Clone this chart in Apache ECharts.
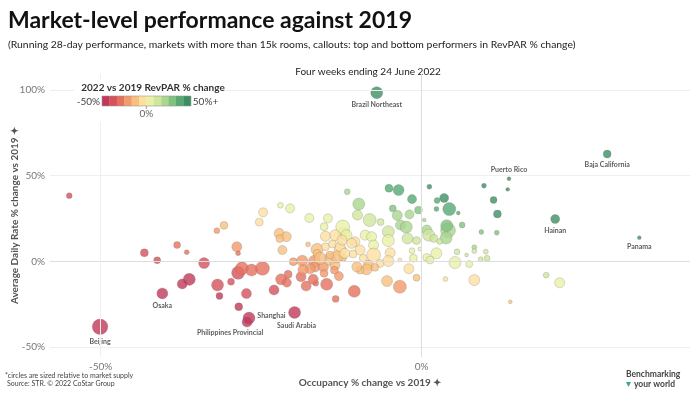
<!DOCTYPE html>
<html>
<head>
<meta charset="utf-8">
<script src="https://cdn.jsdelivr.net/npm/echarts@6/dist/echarts.min.js"></script>
<style>html,body{margin:0;padding:0;background:#fff}#c{width:700px;height:394px}</style>
</head>
<body>
<div id="c"></div>
<script>
// ---- Data (percent changes vs 2019) ----
const occ = [-54.9,-30.8,-31.9,-38.1,-36.6,-43.2,-41.2,-33.9,-36.2,-37.3,-31.8,-31.5,-29.7,-28.6,-28.5,-28.8,-28.6,
 -22.0,-24.7,-25.3,-22.2,-21.1,-22.1,-21.7,-17.7,-28.0,-26.5,-24.8,-27.3,-23.0,-21.9,-20.8,-21.0,-18.8,-18.0,-16.5,-14.8,-16.9,-13.4,-10.5,
 -20.0,-18.6,-16.7,-16.6,-15.3,-14.3,-13.5,-12.3,-12.9,-16.3,-15.0,-13.9,-12.7,-17.5,-14.6,-12.1,-11.6,-9.8,-10.0,-5.1,-3.6,1.2,9.7,-1.5,3.5,2.4,4.3,2.3,5.7,
 -4.5,-3.8,-1.9,-0.5,-8.1,-6.4,-12.3,-3.3,-2.4,-5.2,-5.2,-2.2,-0.8,0.8,1.1,4.1,3.9,3.8,1.9,2.8,0.4,6.3,9.3,11.7,11.2,11.8,13.4,
 -8.8,-7.8,-7.5,-10.4,-11.7,-13.5,-12.7,-9.6,-7.5,-10.7,-13.2,-9.1,-4.9,-1.5,-0.3,0.8,2.3,1.3,5.5,5.2,-3.4,-1.3,-5.2,-6.5,-8.3,-7.3,-2.0,-0.8,3.7,8.2,
 -3.4,-5.4,-8.6,-9.6,-15.2,-13.6,8.2,8.2,10.0,9.2,10.2,7.0,7.4,19.4,21.5,13.8,-15.0,-12.0,-12.4,-10.9,-10.1,-15.2,-20.5,-14.3,-16.3,-15.8,-17.4,-18.5];
const adr = [38.3,21.0,17.9,9.5,5.3,5.0,0.6,-1.0,-10.5,-13.2,-13.8,-20.2,-11.9,-6.7,-26.5,8.5,4.7,
 32.7,28.6,22.9,16.3,14.4,13.3,6.6,9.9,-4.1,-5.1,-4.1,-18.8,-16.7,-10.5,-7.5,-12.4,-9.0,-14.4,-12.8,-13.4,-10.5,-21.9,-17.5,
 -0.2,0.4,0.0,-3.2,-3.2,1.2,-2.2,2.3,-8.6,7.0,8.5,10.1,6.6,25.3,25.1,16.3,40.6,33.4,27.0,42.6,41.6,43.5,44.1,36.3,37.0,35.5,30.5,30.5,28.2,
 30.9,26.8,27.4,29.9,24.1,22.9,20.0,21.2,20.0,17.3,12.1,13.4,12.1,18.3,15.3,18.1,20.8,13.6,13.4,11.6,24.1,21.2,17.1,16.7,35.8,27.6,42.0,
 15.3,14.4,9.5,11.4,15.3,15.3,8.5,6.6,3.7,4.3,2.7,1.8,5.0,6.2,7.2,2.3,4.7,0.8,5.6,-0.7,0.8,1.8,0.2,-1.2,-2.2,-3.5,-4.3,-9.6,-10.3,-10.9,
 -14.8,-11.5,-4.7,-5.1,-7.0,-5.1,8.2,6.0,5.6,1.2,1.8,3.7,-1.6,-8.0,-12.5,-23.6,14.6,4.7,12.4,10.5,-3.2,20.2,30.9,3.7,4.7,1.8,-4.3,-4.9];
const supply = [7,13,7,10,5,13,10,25,30,21,30,10,10,35,13,21,5,
 7,17,13,21,21,13,17,5,35,30,40,21,21,25,13,17,21,21,7,30,21,10,30,
 13,25,30,21,21,30,21,13,17,30,13,13,30,17,17,30,7,30,21,13,25,5,5,17,17,7,35,5,3,
 10,21,17,13,35,10,40,21,30,30,30,25,13,21,30,46,30,30,13,7,3,7,5,5,10,13,3,
 21,21,21,21,25,25,21,21,40,13,30,13,21,7,3,13,25,13,7,30,3,13,25,13,21,13,21,10,5,25,
 35,25,25,13,13,13,5,5,5,5,7,3,10,7,21,3,21,21,21,21,21,13,17,13,13,30,21,21];

const calloutNames = ['Brazil Northeast','Baja California','Puerto Rico','Hainan','Panama','Beijing','Osaka','Shanghai','Philippines Provincial','Saudi Arabia'];
const calloutOcc = [-7.0, 28.9, 13.6, 20.8, 33.9, -50.1, -40.4, -26.9, -27.2, -19.8];
const calloutAdr = [98.4, 62.6, 48.2, 24.7, 13.8, -38.2, -18.7, -33.1, -35.4, -29.8];
const calloutSupply = [30, 13, 3, 17, 3, 50, 25, 30, 21, 30];

const yTicks = [-50, 0, 50, 100];
const xTicks = [-50, 0];
const legendLabels = ['-50%', '0%', '50%+'];

// ---- Styling ----
const palette = ['#c1385a','#d6515a','#e6705e','#f29a6a','#f9bf7f','#fde0a0','#eaf0a6','#cfe69c','#aad68f','#80c27f','#56a973','#3d8f63'];
const FONT = 'Lato';

function revpar(o, a) { return ((1 + o / 100) * (1 + a / 100) - 1) * 100; }

const mainData = occ.map((o, i) => [o, adr[i], revpar(o, adr[i]), supply[i]]);
const labelPos = {
  'Brazil Northeast': {position: 'bottom', distance: 2},
  'Baja California': {position: 'bottom', distance: 3},
  'Puerto Rico': {position: 'top', distance: 3},
  'Hainan': {position: 'bottom', distance: 3},
  'Panama': {position: 'bottom', distance: 3},
  'Beijing': {position: 'bottom', distance: 3},
  'Osaka': {position: 'bottom', distance: 3},
  'Shanghai': {position: 'right', distance: 2, offset: [0, -2]},
  'Philippines Provincial': {position: 'bottom', distance: 2, offset: [-17, 0]},
  'Saudi Arabia': {position: 'bottom', distance: 3, offset: [2, 0]}
};
const calloutData = calloutNames.map((n, i) => ({
  name: n,
  value: [calloutOcc[i], calloutAdr[i], revpar(calloutOcc[i], calloutAdr[i]), calloutSupply[i]],
  label: Object.assign({show: true}, labelPos[n])
}));

const step = 100 / palette.length;
const pieces = palette.map((c, i) => {
  const p = {color: c};
  if (i > 0) p.gte = -50 + i * step;
  if (i < palette.length - 1) p.lt = -50 + (i + 1) * step;
  return p;
});

const bubbleStyle = {opacity: 0.8, borderColor: 'rgba(110,110,110,0.45)', borderWidth: 0.7};
const sizeFn = d => Math.sqrt(d[3]) * 2.2;

const gridLine = (axis, v, color) => ({[axis]: v, lineStyle: {color: color, width: 1, type: 'solid'}});

// legend graphics
const legX = 102, legY = 96, cellW = 7.4, cellH = 10, LZ = 100;
const legendGraphics = [{type: 'rect', z: LZ, shape: {x: 74, y: 80, width: 150, height: 42}, style: {fill: '#ffffff'}, silent: true}];
palette.forEach((c, i) => legendGraphics.push({
  type: 'rect', z: LZ + 1, shape: {x: legX + i * cellW, y: legY, width: cellW + 0.3, height: cellH},
  style: {fill: c}, silent: true
}));
legendGraphics.push({type: 'rect', z: LZ + 2, shape: {x: legX, y: legY, width: cellW * palette.length, height: cellH},
  style: {fill: 'none', stroke: '#999', lineWidth: 0.6}, silent: true});
legendGraphics.push({type: 'line', z: LZ + 2, shape: {x1: legX + cellW * 6, y1: legY + cellH, x2: legX + cellW * 6, y2: legY + cellH + 3},
  style: {stroke: '#888', lineWidth: 0.8}});
legendGraphics.push({type: 'text', z: LZ + 2, x: 153, y: 83, style: {text: '2022 vs 2019 RevPAR % change', font: 'bold 10px ' + FONT, fill: '#333', align: 'center'}});
legendGraphics.push({type: 'text', z: LZ + 2, x: legX - 2, y: legY + 0.5, style: {text: legendLabels[0], font: '10px ' + FONT, fill: '#444', align: 'right'}});
legendGraphics.push({type: 'text', z: LZ + 2, x: legX + cellW * 12 + 2, y: legY + 0.5, style: {text: legendLabels[2], font: '10px ' + FONT, fill: '#444', align: 'left'}});
legendGraphics.push({type: 'text', z: LZ + 2, x: legX + cellW * 6, y: legY + cellH + 3, style: {text: legendLabels[1], font: '10px ' + FONT, fill: '#666', align: 'center'}});

const chart = echarts.init(document.getElementById('c'), null, {renderer: 'canvas'});
chart.setOption({
  animation: false,
  textStyle: {fontFamily: FONT},
  grid: {left: 50, right: 10, top: 74, bottom: 37, containLabel: false, outerBoundsMode: 'none'},
  xAxis: {
    type: 'value', min: -57.9, max: 41.8,
    name: 'Occupancy % change vs 2019 \u2726', nameLocation: 'middle', nameGap: 21, nameMoveOverlap: false,
    nameTextStyle: {fontFamily: FONT, fontSize: 10, fontWeight: 'bold', color: '#555'},
    axisLine: {show: false}, axisTick: {show: false}, splitLine: {show: false},
    axisLabel: {customValues: xTicks, formatter: v => v + '%', color: '#777', fontSize: 10, fontFamily: FONT, margin: 5}
  },
  yAxis: {
    type: 'value', min: -55.8, max: 109.3,
    name: 'Average Daily Rate % change vs 2019 \u2726', nameLocation: 'middle', nameGap: 30, nameRotate: 90, nameMoveOverlap: false,
    nameTextStyle: {fontFamily: FONT, fontSize: 10, fontWeight: 'bold', color: '#555'},
    axisLine: {show: true, lineStyle: {color: '#eeeeee'}}, axisTick: {show: false}, splitLine: {show: false},
    axisLabel: {customValues: yTicks, formatter: v => v + '%', color: '#777', fontSize: 10, fontFamily: FONT, margin: 5}
  },
  visualMap: {type: 'piecewise', show: false, dimension: 2, seriesIndex: [1, 2], pieces: pieces},
  series: [
    {
      type: 'line', name: 'grid', data: [], z: 1, silent: true,
      markLine: {
        silent: true, symbol: 'none', label: {show: false}, animation: false,
        data: [
          gridLine('yAxis', 100, '#efefef'), gridLine('yAxis', 50, '#efefef'),
          gridLine('yAxis', 0, '#dddddd'), gridLine('yAxis', -50, '#efefef'),
          gridLine('xAxis', -50, '#efefef'), gridLine('xAxis', 0, '#dddddd')
        ]
      }
    },
    {
      type: 'scatter', name: 'markets', data: mainData, symbolSize: sizeFn,
      itemStyle: bubbleStyle, z: 3
    },
    {
      type: 'scatter', name: 'callouts', data: calloutData, symbolSize: sizeFn,
      itemStyle: bubbleStyle, z: 4,
      label: {formatter: p => p.name, fontFamily: FONT, fontSize: 7, fontWeight: 'bold', color: '#333'}
    }
  ],
  graphic: [
    {type: 'text', left: 8, top: 9, style: {text: 'Market-level performance against 2019', font: 'bold 23px ' + FONT, fill: '#111'}},
    {type: 'text', left: 8, top: 40, style: {text: '(Running 28-day performance, markets with more than 15k rooms, callouts: top and bottom performers in RevPAR % change)', font: '10.4px ' + FONT, fill: '#222'}},
    {type: 'text', x: 368, y: 67, style: {text: 'Four weeks ending 24 June 2022', font: '10px ' + FONT, fill: '#222', align: 'center'}},
    {type: 'group', z: LZ, children: legendGraphics},
    {type: 'text', left: 5, top: 372, style: {text: '*circles are sized relative to market supply', font: '7px ' + FONT, fill: '#444'}},
    {type: 'text', left: 7, top: 380, style: {text: 'Source: STR. \u00a9 2022 CoStar Group', font: '7px ' + FONT, fill: '#444'}},
    {type: 'text', left: 626, top: 370, style: {text: 'Benchmarking', font: 'bold 8.5px ' + FONT, fill: '#444'}},
    {type: 'text', left: 634, top: 380, style: {text: 'your world', font: 'bold 8.5px ' + FONT, fill: '#444'}},
    {type: 'polygon', shape: {points: [[626, 382], [631, 382], [628.5, 387]]}, style: {fill: '#3aa59a'}}
  ]
});
</script>
</body>
</html>
